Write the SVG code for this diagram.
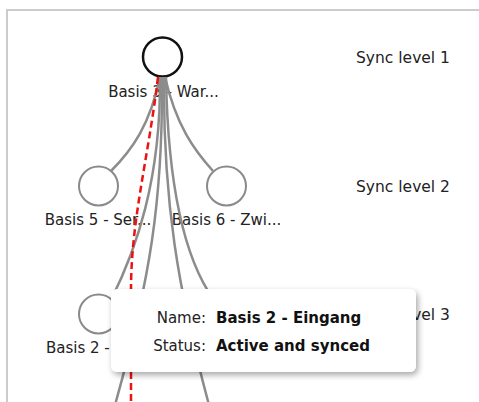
<svg xmlns="http://www.w3.org/2000/svg" width="479" height="402" viewBox="0 0 479 402">
<defs>
<style>
.frame{fill:none;stroke:#cccccc;stroke-width:2}
.node{fill:#ffffff;stroke:#8a8a8a;stroke-width:2}
.root{fill:#ffffff;stroke:#111111;stroke-width:2.5}
.link{fill:none;stroke:#8c8c8c;stroke-width:2.5}
.sync{fill:none;stroke:#ee1111;stroke-width:2.5;stroke-dasharray:7 4}
.lbl{font-family:"DejaVu Sans",Verdana,sans-serif;font-size:15px;fill:#222222;text-anchor:middle}
.lvl{font-family:"DejaVu Sans",Verdana,sans-serif;font-size:15.5px;fill:#222222}
.tk{font-family:"DejaVu Sans",Verdana,sans-serif;font-size:15px;fill:#222222;text-anchor:end}
.tv{font-family:"DejaVu Sans",Verdana,sans-serif;font-size:15px;font-weight:bold;fill:#111111}
</style>
<filter id="sh" x="-10%" y="-20%" width="130%" height="160%">
<feGaussianBlur in="SourceAlpha" stdDeviation="3"/>
<feOffset dx="2" dy="3" result="b"/>
<feComponentTransfer><feFuncA type="linear" slope="0.35"/></feComponentTransfer>
<feMerge><feMergeNode/><feMergeNode in="SourceGraphic"/></feMerge>
</filter>
</defs>
<rect width="479" height="402" fill="#ffffff"/>
<path class="frame" d="M7,402 V10 H479"/>

<g id="levels">
<text class="lvl" x="356" y="63">Sync level 1</text>
<text class="lvl" x="356" y="192">Sync level 2</text>
<text class="lvl" x="356" y="320">Sync level 3</text>
</g>

<g id="node-basis3">
<circle class="root" cx="162.5" cy="57" r="19.5"/>
<text class="lbl" x="163.5" y="97">Basis 3 - War...</text>
</g>
<g id="node-basis5">
<circle class="node" cx="98.5" cy="186" r="19.5"/>
<text class="lbl" x="98" y="225">Basis 5 - Ser...</text>
</g>
<g id="node-basis6">
<circle class="node" cx="226.5" cy="186" r="19.5"/>
<text class="lbl" x="226.5" y="225">Basis 6 - Zwi...</text>
</g>
<g id="node-basis2">
<circle class="node" cx="98.5" cy="314" r="19.5"/>
<text class="lbl" x="99" y="353">Basis 2 - Ein...</text>
</g>

<g id="connectors">
<path class="link" d="M160,77 C150,125 132,150 111,171"/>
<path class="link" d="M165,77 C176,125 194,150 213,171"/>
<path class="link" d="M160,77 C161,180 136,250 111,300"/>
<path class="link" d="M162,77 C163,200 150,280 115,405"/>
<path class="link" d="M164,77 C163,200 178,290 209,405"/>
<path class="link" d="M166,77 C168,190 185,260 214,300"/>
<path class="sync" d="M158,77 C148,160 131,220 131,290 L131,402"/>
</g>

<g id="tooltip">
<rect x="111" y="289" width="305" height="83" rx="6" fill="#ffffff" filter="url(#sh)"/>
<text class="tk" x="206" y="323">Name:</text>
<text class="tv" x="216" y="323">Basis 2 - Eingang</text>
<text class="tk" x="206" y="351">Status:</text>
<text class="tv" x="216" y="351">Active and synced</text>
</g>
</svg>
